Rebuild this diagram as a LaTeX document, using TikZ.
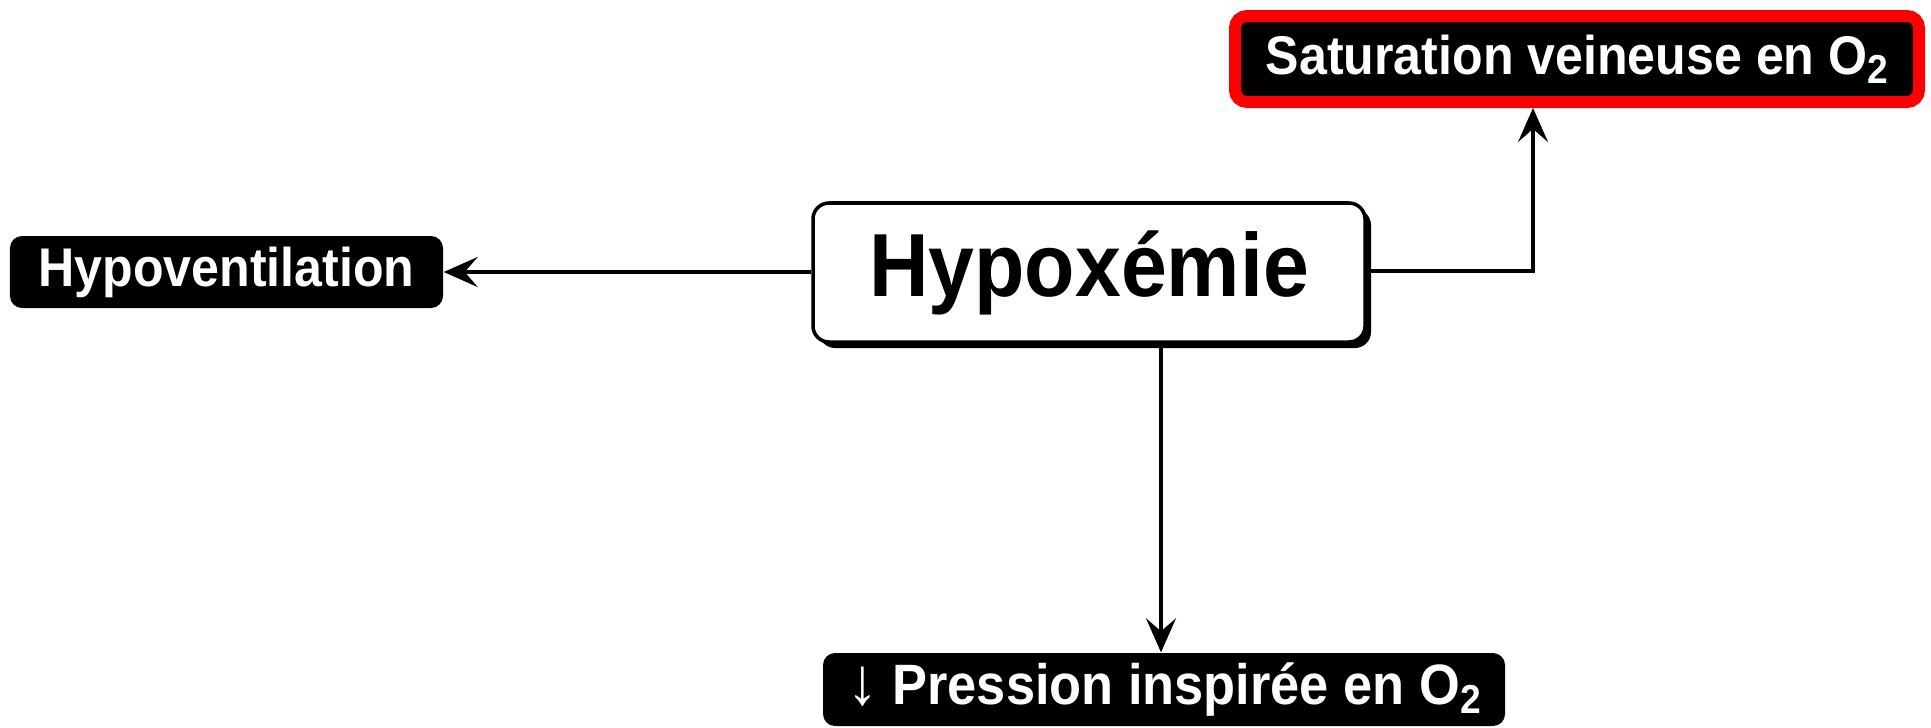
\documentclass[tikz,border=0pt]{standalone}
\usepackage{fontspec}
\setmainfont{Liberation Sans}
\newfontfamily\narrowfont[FakeStretch=0.92]{Liberation Sans}
\usetikzlibrary{arrows.meta,shadows}
\newcommand{\oxy}{O\raisebox{-0.3ex}{\fontsize{11.5}{12}\selectfont 2}}

\begin{document}
\begin{tikzpicture}[
    black label/.style={fill=black,text=white,rounded corners=1.2mm,inner sep=0pt,
      font=\narrowfont\bfseries\fontsize{15.5}{18}\selectfont},
    arrow line/.style={line width=0.9pt,-{Stealth[length=3.4mm,width=3mm,inset=1.3mm]}}
  ]
  \useasboundingbox (0,0) rectangle (19.31,-7.27);

  % the central box
  \node[draw,line width=1pt,fill=white,rounded corners=1.6mm,
        minimum width=5.52cm,minimum height=1.39cm,inner sep=0pt,
        drop shadow={shadow xshift=0.6mm,shadow yshift=-0.6mm,fill=black,opacity=1},
        font=\narrowfont\bfseries\fontsize{25.5}{30}\selectfont]
    (Hypoxemie) at (10.89,-2.725) {Hypoxémie};

  % the three causes
  \node[black label,minimum width=4.33cm,minimum height=0.72cm]
    (Hypoventilation) at (2.265,-2.72) {Hypoventilation};

  \node[black label,draw=red,line width=1.2mm,minimum width=6.84cm,minimum height=0.86cm]
    (Saturation) at (15.77,-0.59) {Saturation veineuse en \oxy};

  \node[black label,minimum width=6.82cm,minimum height=0.73cm,
        font=\narrowfont\bfseries\fontsize{16.2}{18}\selectfont]
    (Pression) at (11.64,-6.895) {{\mdseries\fontsize{19}{18}\selectfont↓} Pression inspirée en \oxy};

  \coordinate (elbow) at (15.33,-2.71);
  \coordinate (down line) at (11.61,-4.5);

  \draw[arrow line] (Hypoxemie.west |- Hypoventilation.east) -- (Hypoventilation.east);
  \draw[arrow line] (down line |- Hypoxemie.south) -- (down line |- Pression.north);
  \draw[arrow line] (Hypoxemie.east |- elbow) -- (elbow) -- (elbow |- Saturation.south);
\end{tikzpicture}
\end{document}
